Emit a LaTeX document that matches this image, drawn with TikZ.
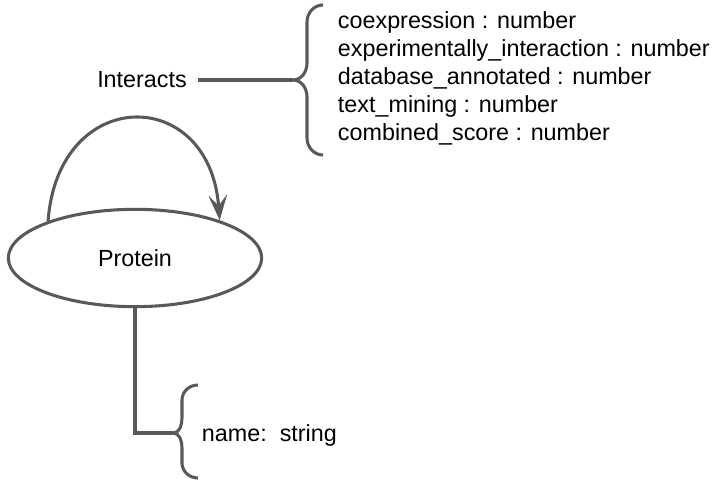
\documentclass[tikz,border=0pt]{standalone}
\usepackage{fontspec}
\setmainfont{Liberation Sans}
\usepackage{tikz}
\usetikzlibrary{
    arrows.meta,
    positioning,
    shapes.geometric
}
\definecolor{edgegray}{HTML}{595959}

\begin{document}
\begin{tikzpicture}[x=0.75pt, y=-0.75pt,
    line width=2.3pt, draw=edgegray,
    every node/.style={font=\fontsize{17.5pt}{21pt}\selectfont}]

    \useasboundingbox (0,0) rectangle (715,491);

    % Entity
    \node[ellipse, draw=edgegray, minimum width=190pt, minimum height=73pt, inner sep=0pt] (protein) at (135,258) {Protein};

    % Self relation
    \draw[edgegray, -{Stealth[length=19pt, width=14pt, inset=8pt]}] (protein.157)
        .. controls +(10,-136) and +(-10,-136) .. (protein.24);
    \node (interacts) at (142,80) {Interacts};

    % Relation attributes
    \coordinate (reltip) at (293,80);
    \draw[edgegray, shorten <=4pt] (interacts.east) -- (reltip);
    \draw[edgegray] (323,5) to[out=180,in=90] (307,22) -- (307,63) to[out=270,in=0] (reltip)
        to[out=0,in=90] (307,97) -- (307,138) to[out=270,in=180] (323,155);
    \node[anchor=west, align=left] (relattrs) at (332,78) {coexpression : number\\experimentally\_interaction : number\\database\_annotated : number\\text\_mining : number\\combined\_score : number};

    % Entity attributes
    \coordinate (enttip) at (173,433);
    \draw[edgegray] (protein.south) |- (enttip);
    \draw[edgegray] (198,385) to[out=180,in=90] (182,400) -- (182,418) to[out=270,in=0] (enttip)
        to[out=0,in=90] (182,448) -- (182,463) to[out=270,in=180] (198,478);
    \node[anchor=west] (entattrs) at (196,435) {name:\ \ string};

\end{tikzpicture}
\end{document}
